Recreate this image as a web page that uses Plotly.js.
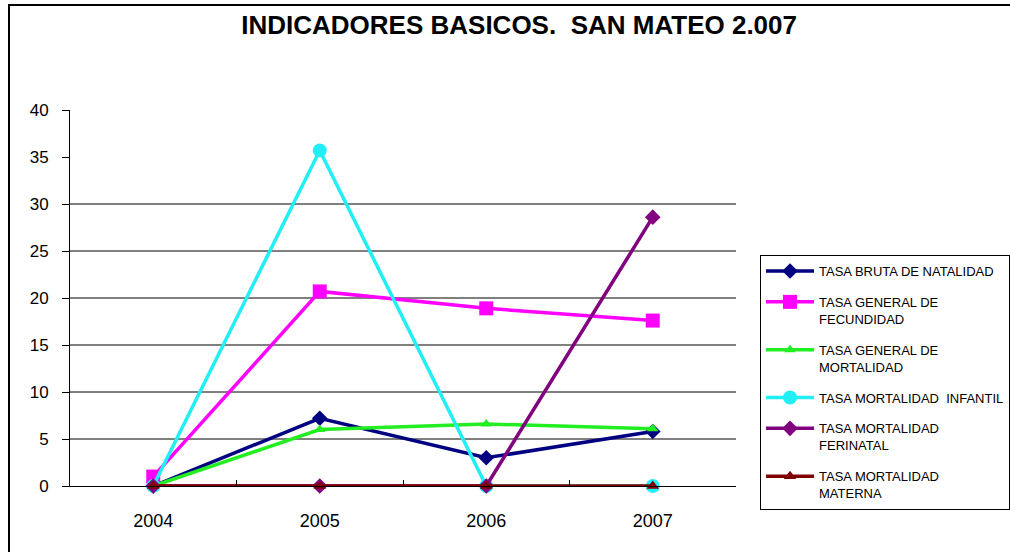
<!DOCTYPE html>
<html>
<head>
<meta charset="utf-8">
<script src="https://cdn.plot.ly/plotly-3.0.1.min.js"></script>
<style>
  html, body { margin: 0; padding: 0; background: #fff; overflow: hidden; }
  #wrap { position: relative; width: 1010px; height: 552px; }
  #chart { position: absolute; left: 0; top: 0; width: 1010px; height: 552px; }
  #frame { position: absolute; left: 8px; top: 4px; width: 1100px; height: 700px;
           border-left: 2px solid #000; border-top: 2px solid #000; pointer-events: none; }
</style>
</head>
<body>
<div id="wrap">
  <div id="chart"></div>
  <div id="frame"></div>
</div>
<script>
const years = ['2004', '2005', '2006', '2007'];
const seriesNames = [
  'TASA BRUTA DE NATALIDAD',
  'TASA GENERAL DE<br>FECUNDIDAD',
  'TASA GENERAL DE<br>MORTALIDAD',
  'TASA MORTALIDAD  INFANTIL',
  'TASA MORTALIDAD<br>FERINATAL',
  'TASA MORTALIDAD<br>MATERNA'
];
const brutaNatalidad = [0, 7.2, 3.0, 5.8];
const generalFecundidad = [1.0, 20.7, 18.9, 17.6];
const generalMortalidad = [0, 6.0, 6.6, 6.1];
const mortalidadInfantil = [0, 35.7, 0, 0];
const mortalidadPerinatal = [0, 0, 0, 28.6];
const mortalidadMaterna = [0, 0, 0, 0];
const yTicks = [0, 5, 10, 15, 20, 25, 30, 35, 40];
const gridValues = [5, 10, 15, 20, 25, 30];

const values = [brutaNatalidad, generalFecundidad, generalMortalidad,
                mortalidadInfantil, mortalidadPerinatal, mortalidadMaterna];
const colors = ['#000080', '#ff00ff', '#22ee22', '#22eef5', '#800080', '#800000'];
const symbols = ['diamond', 'square', 'triangle-up', 'circle', 'diamond', 'triangle-up'];
const sizes = [12, 14, 10, 14, 12, 11];

const traces = values.map((v, i) => ({
  type: 'scatter',
  mode: 'lines+markers',
  x: years,
  y: v,
  name: seriesNames[i],
  legendgroup: 'g' + i,
  line: { color: colors[i], width: 3.5 },
  marker: { color: colors[i], symbol: symbols[i], size: sizes[i] },
  cliponaxis: false
}));

const shapes = gridValues.map(g => ({
  type: 'line', xref: 'paper', yref: 'y', x0: 0, x1: 1, y0: g, y1: g,
  line: { color: '#000', width: 1 }, layer: 'below'
}));

const layout = {
  width: 1010, height: 552,
  paper_bgcolor: '#fff', plot_bgcolor: '#fff',
  margin: { l: 70, r: 274, t: 110, b: 66 },
  showlegend: true,
  title: {
    text: '<b>INDICADORES BASICOS.  SAN MATEO 2.007</b>',
    font: { family: 'Liberation Sans Narrow, Arial Narrow, Liberation Sans, Arial, sans-serif', size: 26, color: '#000' },
    x: 0.514, xref: 'container', xanchor: 'center',
    y: 0.955, yref: 'container', yanchor: 'middle'
  },
  xaxis: {
    type: 'category',
    range: [-0.5, 3.5],
    showline: true, linecolor: '#000', linewidth: 1,
    ticks: 'inside', ticklen: 6, tickcolor: '#000', tickson: 'boundaries',
    showgrid: false, zeroline: false,
    tickfont: { family: 'Liberation Sans, Arial, sans-serif', size: 18, color: '#000' },
    ticklabelstandoff: 18
  },
  yaxis: {
    range: [0, 40],
    tickvals: yTicks,
    showline: true, linecolor: '#000', linewidth: 1,
    ticks: 'outside', ticklen: 7, tickcolor: '#000',
    showgrid: false, zeroline: false,
    tickfont: { family: 'Liberation Sans, Arial, sans-serif', size: 17, color: '#000' },
    ticklabelstandoff: 10
  },
  shapes: shapes,
  legend: {
    xref: 'container', yref: 'container',
    x: 0.7525, xanchor: 'left', y: 0.538, yanchor: 'top',
    bordercolor: '#000', borderwidth: 1, bgcolor: '#fff',
    font: { family: 'Liberation Sans, Arial, sans-serif', size: 13, color: '#000' },
    valign: 'top', tracegroupgap: 11, itemwidth: 48
  }
};

Plotly.newPlot('chart', traces, layout, { displayModeBar: false, staticPlot: true });
</script>
</body>
</html>
